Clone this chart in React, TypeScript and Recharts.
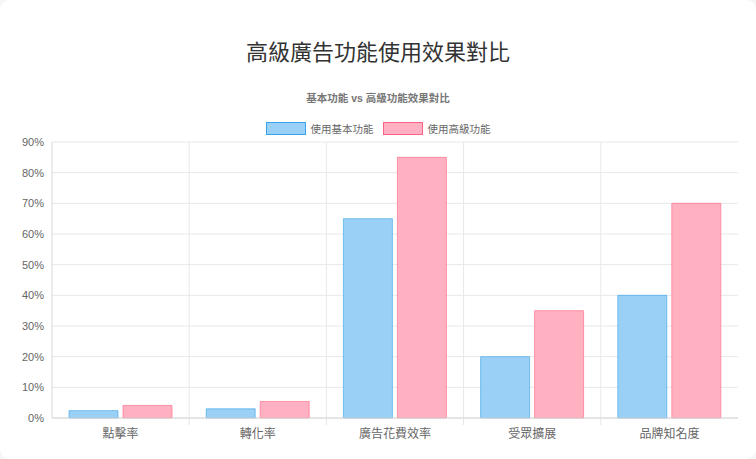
import React from 'react';
import { BarChart, Bar, XAxis, YAxis, CartesianGrid } from 'recharts';

// Feature comparison data (percent)
const categories = ['點擊率', '轉化率', '廣告花費效率', '受眾擴展', '品牌知名度'];
const basicValues = [2.4, 3.0, 65, 20, 40];
const advancedValues = [4.1, 5.4, 85, 35, 70];
const yTicks = [0, 10, 20, 30, 40, 50, 60, 70, 80, 90];

const seriesInfo = [
  { key: 'basic', name: '使用基本功能', fill: '#9ad0f5', stroke: '#36a2eb' },
  { key: 'advanced', name: '使用高級功能', fill: '#ffb1c1', stroke: '#ff6384' },
];

const data = categories.map((name, i) => ({
  name,
  basic: basicValues[i],
  advanced: advancedValues[i],
}));

const FONT = '"Liberation Sans", Arial, "Noto Sans CJK TC", sans-serif';
const W = 756;
const H = 459;

// tick label plus a boundary tick mark on the left side of each category (chart.js style)
const CategoryTick = (props: any) => {
  const { x, y, payload, index, width } = props;
  const half = (width ?? 686) / categories.length / 2;
  return (
    <g>
      {index > 0 && (
        <line x1={x - half} x2={x - half} y1={y - 8} y2={y - 1} stroke="#e5e5e5" />
      )}
      <text x={x} y={y + 12} textAnchor="middle" fill="#666" fontSize={12} fontFamily={FONT}>
        {payload.value}
      </text>
    </g>
  );
};

const Legend = () => (
  <div
    style={{
      position: 'absolute',
      top: 121,
      left: 0,
      width: W,
      display: 'flex',
      justifyContent: 'center',
      gap: 9,
      fontFamily: FONT,
      fontSize: 10.5,
      color: '#666',
    }}
  >
    {seriesInfo.map(s => (
      <div key={s.key} style={{ display: 'flex', alignItems: 'center' }}>
        <span
          style={{
            display: 'inline-block',
            width: 38,
            height: 11,
            background: s.fill,
            border: `1px solid ${s.stroke}`,
            marginRight: 5,
          }}
        />
        <span>{s.name}</span>
      </div>
    ))}
  </div>
);

export default function App() {
  return (
    <div style={{ position: 'fixed', inset: 0, background: '#f6f6f6' }}>
      <div
        style={{
          position: 'absolute',
          left: 0,
          top: 0,
          width: W,
          height: H,
          background: '#fff',
          borderRadius: 10,
          overflow: 'hidden',
        }}
      >
        <div
          style={{
            position: 'absolute',
            top: 34,
            width: W,
            textAlign: 'center',
            fontFamily: FONT,
            fontSize: 22,
            fontWeight: 'normal',
            color: '#333',
          }}
        >
          高級廣告功能使用效果對比
        </div>
        <div
          style={{
            position: 'absolute',
            top: 90,
            width: W,
            textAlign: 'center',
            fontFamily: FONT,
            fontSize: 10.5,
            fontWeight: 'bold',
            color: '#777',
          }}
        >
          基本功能 vs 高級功能效果對比
        </div>
        <Legend />
        <BarChart
          width={W}
          height={H}
          data={data}
          margin={{ top: 142, right: 18, left: 8, bottom: 11 }}
          barSize={49}
          barGap={5}
          barCategoryGap="10%"
        >
          <CartesianGrid
            stroke="#e8e8e8"
            verticalCoordinatesGenerator={({ offset }: any) =>
              categories.map((_, i) => offset.left + (i * offset.width) / categories.length).slice(1)
            }
          />
          <XAxis
            dataKey="name"
            interval={0}
            tickLine={false}
            axisLine={{ stroke: '#d6d6d6' }}
            height={30}
            tick={<CategoryTick />}
          />
          <YAxis
            domain={[0, 90]}
            ticks={yTicks}
            width={44}
            tickLine={false}
            axisLine={{ stroke: '#d6d6d6' }}
            tickFormatter={(v: number) => `${v}%`}
            tick={{ fill: '#666', fontSize: 11, fontFamily: FONT }}
          />
          {seriesInfo.map(s => (
            <Bar
              key={s.key}
              dataKey={s.key}
              name={s.name}
              fill={s.fill}
              stroke={s.stroke}
              strokeOpacity={0.6}
              isAnimationActive={false}
            />
          ))}
        </BarChart>
      </div>
    </div>
  );
}
